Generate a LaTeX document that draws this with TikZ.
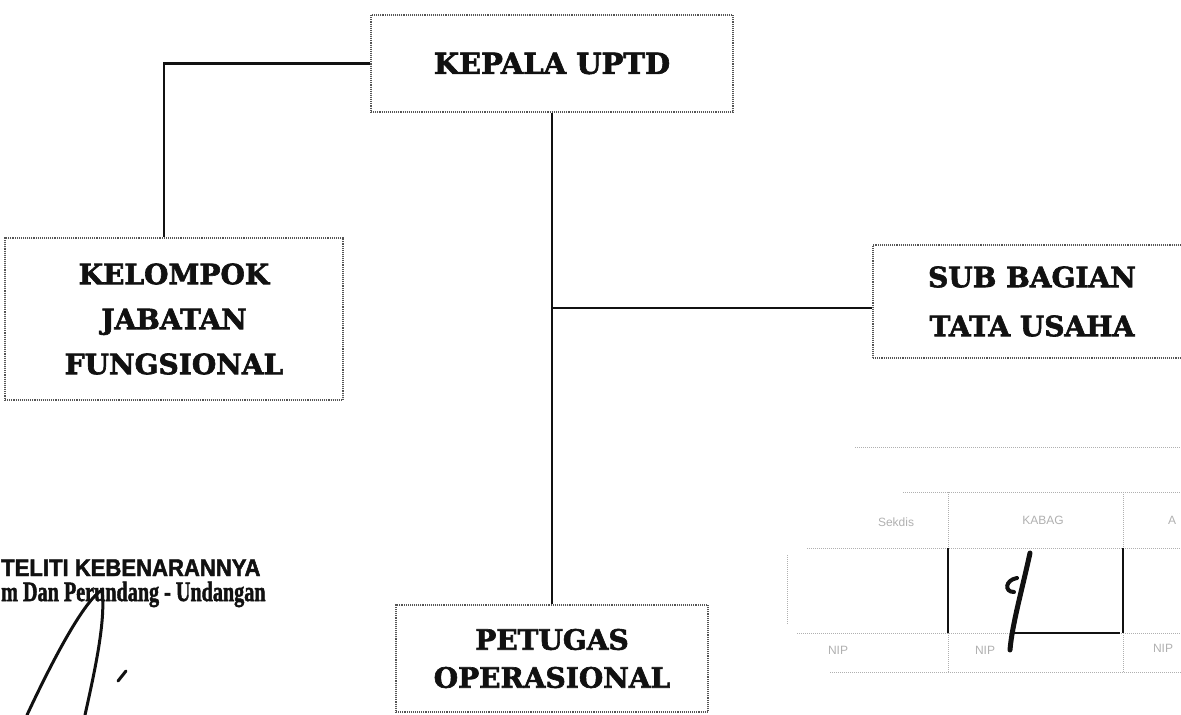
\documentclass[tikz,border=0pt]{standalone}
\usepackage{fontspec}
\setmainfont{DejaVu Serif}[BoldFeatures={FakeBold=2.2}]
\newfontfamily\stampsans{Liberation Sans}[BoldFeatures={FakeBold=2}]
\newfontfamily\stampserif{Liberation Serif}[BoldFeatures={FakeBold=2}]
\usetikzlibrary{calc}
\definecolor{ink}{HTML}{111111}
\definecolor{scan}{HTML}{555555}
\definecolor{faint}{HTML}{B0B0B0}
\tikzset{
  unit/.style={rectangle, draw=scan, densely dotted, line width=1.1pt, align=center,
               inner sep=0pt, text=ink, font=\bfseries\fontsize{28}{46}\selectfont},
  link/.style={draw=ink, line width=2.6pt},
  grid/.style={draw=faint, densely dotted, line width=1pt},
  gridink/.style={draw=ink, line width=2pt},
  sign/.style={draw=ink, line width=3pt, line cap=round},
  cell/.style={inner sep=0pt, text=faint, font=\stampsans\fontsize{12}{12}\selectfont},
  stamp/.style={anchor=base west, inner sep=0pt, text=ink},
}

\begin{document}
\begin{tikzpicture}[x=1pt,y=-1pt]
\clip (0,0) rectangle (1181,715);

\node[unit, minimum width=362pt, minimum height=97pt, font=\bfseries\fontsize{29}{46}\selectfont]
  (kepala) at (552,63.5) {KEPALA UPTD};
\node[unit, minimum width=338pt, minimum height=162pt, font=\bfseries\fontsize{28}{45}\selectfont]
  (kelompok) at (174,319) {KELOMPOK\\JABATAN\\FUNGSIONAL};
\node[unit, minimum width=318pt, minimum height=113pt, font=\bfseries\fontsize{28}{49}\selectfont]
  (subbag) at (1032,301.5) {SUB BAGIAN\\TATA USAHA};
\node[unit, minimum width=312pt, minimum height=107pt, font=\bfseries\fontsize{28}{38}\selectfont]
  (petugas) at (552,658.5) {PETUGAS\\OPERASIONAL};

\coordinate (fork) at (552,308);
\draw[link] (kepala.west) -| ([xshift=-10pt]kelompok.north);
\draw[link] (kepala.south) -- (petugas.north);
\draw[link] (fork) -- (fork -| subbag.west);

% stamp, left
\node[stamp, font=\stampsans\bfseries\fontsize{24}{24}\selectfont] (cert) at (1,576)
  {\scalebox{0.92}[1]{TELITI KEBENARANNYA}};
\node[stamp, font=\stampserif\bfseries\fontsize{28}{28}\selectfont] (dept) at (1,601)
  {\scalebox{0.72}[1]{m Dan Perundang - Undangan}};
\draw[sign] (27,715) .. controls (55,655) and (85,600) .. (102,590)
  .. controls (106,620) and (95,670) .. (85,715);
\draw[sign] (118,681) -- (126,671);

% stamp, right
\draw[grid] (855,447) -- (1181,447);
\draw[grid] (903,492) -- (1181,492);
\draw[grid] (807,548) -- (1181,548);
\draw[grid] (797,633) -- (1181,633);
\draw[grid] (830,672) -- (1181,672);
\draw[grid] (787,555) -- (787,625);
\foreach \x in {948,1123} {
  \draw[grid] (\x,492) -- (\x,548);
  \draw[gridink] (\x,548) -- (\x,633);
  \draw[grid] (\x,633) -- (\x,672);
}
\draw[gridink] (1010,633) -- (1120,633);
\node[cell] (hd1) at (896,522) {Sekdis};
\node[cell] (hd2) at (1043,520) {KABAG};
\node[cell] (hd3) at (1172,520) {A};
\node[cell] (nip1) at (838,650) {NIP};
\node[cell] (nip2) at (985,650) {NIP};
\node[cell] (nip3) at (1163,648) {NIP};
\draw[sign, line width=5pt] (1030,553) .. controls (1022,590) and (1012,625) .. (1010,650);
\draw[sign, line width=4pt] (1017,578) .. controls (1005,580) and (1004,592) .. (1014,592);
\end{tikzpicture}
\end{document}
